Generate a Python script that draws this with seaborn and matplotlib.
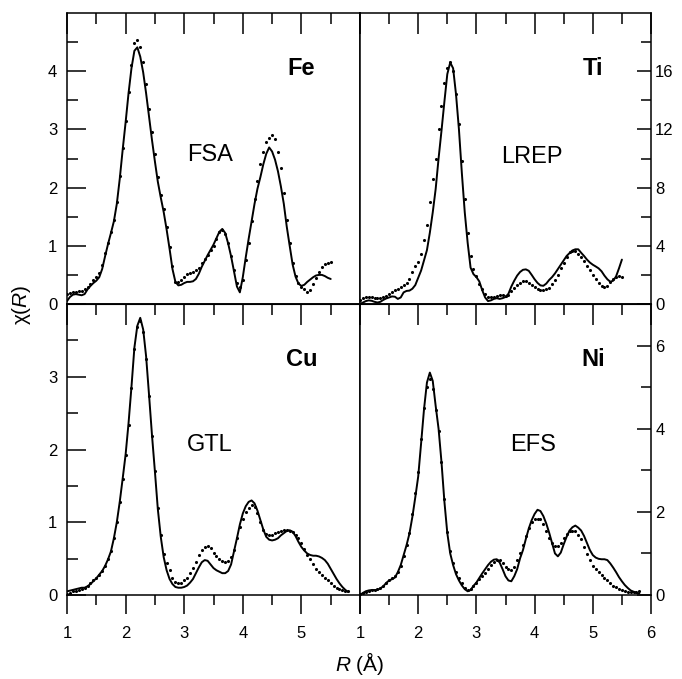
import numpy as np
import pandas as pd
import matplotlib
matplotlib.use("Agg")
import matplotlib.pyplot as plt
import seaborn as sns
from matplotlib.ticker import FixedLocator

sns.set_style("ticks")
plt.rcParams["font.family"] = ["Liberation Sans", "DejaVu Sans"]
plt.rcParams["mathtext.fontset"] = "custom"
plt.rcParams["mathtext.rm"] = "Liberation Sans"
plt.rcParams["mathtext.it"] = "Liberation Sans:italic"
for k in ["text.color", "axes.labelcolor", "xtick.color", "ytick.color", "axes.edgecolor"]:
    plt.rcParams[k] = "black"

# ---------------- data ----------------
R_fe = np.round(np.arange(1.0, 5.501, 0.05), 2)
fe_line = [0.05, 0.12, 0.16, 0.17, 0.16, 0.15, 0.17, 0.25, 0.31, 0.36,
           0.40, 0.46, 0.60, 0.82, 1.03, 1.22, 1.42, 1.72, 2.15, 2.65,
           3.12, 3.62, 4.05, 4.35, 4.41, 4.25, 3.98, 3.62, 3.22, 2.82,
           2.45, 2.10, 1.83, 1.58, 1.28, 0.95, 0.60, 0.38, 0.32, 0.33,
           0.36, 0.38, 0.38, 0.39, 0.43, 0.52, 0.64, 0.74, 0.84, 0.93,
           1.02, 1.13, 1.24, 1.29, 1.22, 1.04, 0.82, 0.56, 0.30, 0.20,
           0.46, 0.80, 1.12, 1.42, 1.72, 1.98, 2.18, 2.40, 2.58, 2.69,
           2.62, 2.48, 2.28, 2.02, 1.72, 1.33, 1.00, 0.68, 0.47, 0.35,
           0.31, 0.33, 0.38, 0.42, 0.46, 0.49, 0.50, 0.50, 0.48, 0.45,
           0.43]
fe_dots = [0.17, 0.19, 0.20, 0.21, 0.22, 0.23, 0.25, 0.29, 0.35, 0.41,
           0.46, 0.53, 0.67, 0.88, 1.05, 1.23, 1.44, 1.75, 2.20, 2.68,
           3.15, 3.65, 4.10, 4.48, 4.53, 4.42, 4.15, 3.78, 3.35, 2.95,
           2.58, 2.18, 1.88, 1.63, 1.32, 0.98, 0.65, 0.38, 0.38, 0.42,
           0.47, 0.52, 0.53, 0.55, 0.58, 0.62, 0.70, 0.77, 0.85, 0.92,
           1.00, 1.12, 1.23, 1.28, 1.20, 1.04, 0.82, 0.58, 0.36, 0.30,
           0.42, 0.75, 1.05, 1.42, 1.80, 2.12, 2.40, 2.62, 2.78, 2.86,
           2.91, 2.84, 2.62, 2.33, 1.90, 1.45, 1.05, 0.70, 0.48, 0.36,
           0.30, 0.25, 0.21, 0.24, 0.35, 0.44, 0.55, 0.64, 0.69, 0.71,
           0.72]

R_ti = np.round(np.arange(1.0, 5.501, 0.05), 2)
ti_line = [0.00, 0.10, 0.20, 0.25, 0.22, 0.15, 0.10, 0.15, 0.28, 0.38,
           0.45, 0.52, 0.50, 0.35, 0.45, 0.80, 0.90, 0.92, 1.05, 1.30,
           1.80, 2.30, 3.00, 3.70, 4.90, 6.30, 7.90, 10.0, 11.9, 13.9,
           15.8, 16.6, 16.2, 14.4, 12.0, 9.0, 6.3, 4.2, 2.5, 2.05,
           1.85, 1.55, 0.95, 0.45, 0.20, 0.25, 0.35, 0.40, 0.35, 0.40,
           0.48, 0.70, 1.20, 1.60, 1.95, 2.20, 2.35, 2.38, 2.28, 2.00,
           1.70, 1.45, 1.28, 1.25, 1.40, 1.65, 1.85, 2.10, 2.40, 2.70,
           3.00, 3.30, 3.50, 3.68, 3.76, 3.76, 3.52, 3.30, 3.05, 2.85,
           2.70, 2.58, 2.45, 2.25, 1.95, 1.70, 1.53, 1.60, 1.90, 2.45,
           3.05]
ti_dots = [0.25, 0.40, 0.48, 0.50, 0.48, 0.43, 0.40, 0.40, 0.48, 0.58,
           0.70, 0.82, 0.95, 1.05, 1.15, 1.30, 1.45, 1.75, 2.20, 2.60,
           2.90, 3.45, 4.40, 5.40, 7.00, 8.60, 10.0, 12.0, 13.6, 15.2,
           16.2, 16.6, 16.0, 14.4, 12.4, 9.8, 7.2, 4.9, 3.3, 2.4,
           1.95, 1.35, 1.00, 0.70, 0.50, 0.48, 0.50, 0.55, 0.62, 0.60,
           0.55, 0.65, 0.90, 1.10, 1.30, 1.45, 1.57, 1.55, 1.42, 1.32,
           1.20, 1.05, 0.98, 0.96, 1.00, 1.08, 1.35, 1.65, 2.00, 2.45,
           2.84, 3.25, 3.55, 3.65, 3.65, 3.45, 3.20, 2.95, 2.62, 2.35,
           2.00, 1.70, 1.42, 1.25, 1.15, 1.25, 1.50, 1.70, 1.88, 1.90,
           1.88]

R_cu = np.round(np.arange(1.0, 5.801, 0.05), 2)
cu_line = [0.05, 0.06, 0.07, 0.08, 0.09, 0.10, 0.10, 0.12, 0.15, 0.19,
           0.23, 0.28, 0.33, 0.40, 0.49, 0.60, 0.78, 1.00, 1.28, 1.60,
           1.93, 2.36, 2.86, 3.40, 3.70, 3.81, 3.65, 3.28, 2.75, 2.20,
           1.70, 1.18, 0.80, 0.52, 0.34, 0.22, 0.15, 0.11, 0.10, 0.10,
           0.11, 0.13, 0.17, 0.22, 0.30, 0.38, 0.45, 0.48, 0.47, 0.42,
           0.37, 0.34, 0.32, 0.30, 0.30, 0.33, 0.42, 0.60, 0.78, 0.97,
           1.12, 1.22, 1.28, 1.30, 1.26, 1.16, 1.03, 0.90, 0.80, 0.76,
           0.75, 0.76, 0.78, 0.82, 0.85, 0.88, 0.89, 0.87, 0.81, 0.73,
           0.66, 0.61, 0.57, 0.55, 0.54, 0.54, 0.53, 0.51, 0.48, 0.43,
           0.36, 0.29, 0.22, 0.16, 0.11, 0.07, 0.04]
cu_dots = [0.01, 0.03, 0.05, 0.06, 0.07, 0.08, 0.09, 0.12, 0.16, 0.20,
           0.24, 0.28, 0.33, 0.40, 0.49, 0.60, 0.78, 1.00, 1.28, 1.60,
           1.93, 2.33, 2.84, 3.38, 3.68, 3.76, 3.62, 3.25, 2.73, 2.18,
           1.70, 1.20, 0.82, 0.56, 0.44, 0.34, 0.24, 0.18, 0.16, 0.17,
           0.20, 0.24, 0.30, 0.37, 0.45, 0.55, 0.62, 0.66, 0.67, 0.64,
           0.58, 0.53, 0.49, 0.47, 0.46, 0.47, 0.52, 0.62, 0.78, 0.93,
           1.05, 1.14, 1.20, 1.24, 1.21, 1.13, 1.01, 0.90, 0.84, 0.83,
           0.83, 0.85, 0.87, 0.88, 0.90, 0.90, 0.88, 0.86, 0.83, 0.78,
           0.72, 0.63, 0.55, 0.49, 0.42, 0.36, 0.32, 0.27, 0.23, 0.20,
           0.16, 0.12, 0.10, 0.08, 0.07, 0.06, 0.05]

R_ni = np.round(np.arange(1.0, 5.801, 0.05), 2)
ni_line = [0.00, 0.05, 0.09, 0.11, 0.12, 0.12, 0.12, 0.16, 0.21, 0.29,
           0.35, 0.38, 0.42, 0.55, 0.72, 0.96, 1.20, 1.48, 1.88, 2.35,
           2.85, 3.65, 4.47, 5.11, 5.35, 5.15, 4.55, 4.00, 3.20, 2.25,
           1.49, 1.00, 0.72, 0.50, 0.35, 0.23, 0.14, 0.09, 0.12, 0.22,
           0.30, 0.41, 0.52, 0.62, 0.72, 0.80, 0.85, 0.86, 0.78, 0.62,
           0.45, 0.35, 0.33, 0.45, 0.62, 0.88, 1.08, 1.35, 1.60, 1.80,
           1.95, 2.05, 2.02, 1.90, 1.72, 1.50, 1.25, 1.00, 0.93, 1.02,
           1.22, 1.40, 1.55, 1.63, 1.67, 1.62, 1.55, 1.42, 1.25, 1.08,
           0.96, 0.90, 0.87, 0.86, 0.86, 0.84, 0.76, 0.66, 0.55, 0.43,
           0.33, 0.24, 0.17, 0.11, 0.08, 0.05, 0.04]
ni_dots = [0.02, 0.05, 0.08, 0.10, 0.12, 0.13, 0.14, 0.17, 0.22, 0.29,
           0.36, 0.40, 0.45, 0.55, 0.70, 0.95, 1.20, 1.50, 1.95, 2.45,
           2.95, 3.75, 4.50, 5.00, 5.20, 4.95, 4.45, 3.95, 3.20, 2.30,
           1.52, 1.05, 0.78, 0.55, 0.40, 0.28, 0.18, 0.12, 0.15, 0.22,
           0.29, 0.38, 0.45, 0.52, 0.62, 0.72, 0.80, 0.84, 0.84, 0.76,
           0.68, 0.62, 0.60, 0.68, 0.85, 1.00, 1.20, 1.42, 1.62, 1.75,
           1.82, 1.84, 1.82, 1.70, 1.55, 1.38, 1.26, 1.18, 1.18, 1.24,
           1.36, 1.46, 1.54, 1.55, 1.53, 1.45, 1.35, 1.15, 0.98, 0.84,
           0.70, 0.62, 0.55, 0.48, 0.42, 0.36, 0.28, 0.22, 0.19, 0.15,
           0.12, 0.10, 0.08, 0.08, 0.08, 0.08, 0.10]

# ---------------- layout ----------------
W, H = 682, 679
fig = plt.figure(figsize=(W / 100, H / 100), dpi=100)
xl, xm, xr = 67 / W, 360 / W, 651 / W
yt, ym, yb = 1 - 13 / H, 1 - 304 / H, 1 - 595 / H

ax_tl = fig.add_axes([xl, ym, xm - xl, yt - ym])
ax_tr = fig.add_axes([xm, ym, xr - xm, yt - ym])
ax_bl = fig.add_axes([xl, yb, xm - xl, ym - yb])
ax_br = fig.add_axes([xm, yb, xr - xm, ym - yb])

panels = [
    (ax_tl, R_fe, fe_line, fe_dots, 5, [0, 1, 2, 3, 4], np.arange(0.5, 5, 1.0), "left", False, "Fe", "FSA", (0.488, 0.512)),
    (ax_tr, R_ti, ti_line, ti_dots, 20, [0, 4, 8, 12, 16], [2, 6, 10, 14, 18], "right", False, "Ti", "LREP", (0.592, 0.505)),
    (ax_bl, R_cu, cu_line, cu_dots, 4, [0, 1, 2, 3], np.arange(0.5, 4, 1.0), "left", True, "Cu", "GTL", (0.488, 0.515)),
    (ax_br, R_ni, ni_line, ni_dots, 7, [0, 2, 4, 6], [1, 3, 5], "right", True, "Ni", "EFS", (0.596, 0.515)),
]

xmaj = [1, 2, 3, 4, 5, 6]
xmin = [1.5, 2.5, 3.5, 4.5, 5.5]
TS = 12

for ax, R, line, dots, ymax, ymaj, ymin, side, bottom, elem, samp, spos in panels:
    df = pd.DataFrame({"R": R, "line": line, "dots": dots})
    sns.lineplot(data=df, x="R", y="line", ax=ax, color="black", lw=1.4,
                 estimator=None, sort=False)
    sns.scatterplot(data=df, x="R", y="dots", ax=ax, color="black", s=5,
                    linewidth=0, zorder=3)
    ax.set_xlim(1, 6)
    ax.set_ylim(0, ymax)
    ax.set_xlabel("")
    ax.set_ylabel("")
    for sp in ax.spines.values():
        sp.set_visible(True)
        sp.set_linewidth(1.1)
        sp.set_color("black")

    # y ticks
    ax.yaxis.set_major_locator(FixedLocator(ymaj))
    ax.yaxis.set_minor_locator(FixedLocator(list(ymin)))
    if side == "left":
        ax.tick_params(axis="y", which="both", direction="in", left=True, right=False,
                       labelleft=True, labelright=False, width=1.1, labelsize=TS, pad=7)
        ax.tick_params(axis="y", which="major", length=14)
        ax.tick_params(axis="y", which="minor", length=8)
    else:
        ax.yaxis.tick_right()
        ax.tick_params(axis="y", which="both", direction="in", left=False, right=True,
                       labelleft=False, labelright=True, width=1.1, labelsize=TS, pad=3)
        ax.tick_params(axis="y", which="major", length=10)
        ax.tick_params(axis="y", which="minor", length=7)
    ax.set_yticklabels([str(v) for v in ymaj])

    # x ticks
    ax.xaxis.set_major_locator(FixedLocator(xmaj))
    ax.xaxis.set_minor_locator(FixedLocator(xmin))
    if bottom:
        ax.tick_params(axis="x", which="both", direction="out", bottom=True, top=False,
                       labelbottom=True, width=1.1, labelsize=TS, pad=8)
        ax.tick_params(axis="x", which="major", length=14)
        ax.tick_params(axis="x", which="minor", length=7)
        if side == "left":
            ax.set_xticklabels(["1", "2", "3", "4", "5", ""])
        else:
            ax.set_xticklabels(["1", "2", "3", "4", "5", "6"])
        sec = ax.secondary_xaxis("top")
        sec.xaxis.set_major_locator(FixedLocator(xmaj))
        sec.xaxis.set_minor_locator(FixedLocator(xmin))
        sec.tick_params(axis="x", which="both", direction="in", labeltop=False, width=1.1)
        sec.tick_params(axis="x", which="major", length=15)
        sec.tick_params(axis="x", which="minor", length=8)
    else:
        ax.tick_params(axis="x", which="both", direction="in", bottom=False, top=True,
                       labelbottom=False, labeltop=False, width=1.1)
        ax.tick_params(axis="x", which="major", length=15)
        ax.tick_params(axis="x", which="minor", length=8)

    ax.text(0.80, 0.81, elem, transform=ax.transAxes, fontsize=17, fontweight="bold",
            ha="center", va="center")
    ax.text(spos[0], spos[1], samp, transform=ax.transAxes, fontsize=17,
            ha="center", va="center")

fig.text(0.032, 0.551, "χ($\\mathit{R}$)", rotation=90, fontsize=15, ha="center", va="center")
fig.text(0.528, 0.023, "$\\mathit{R}$ (Å)", fontsize=15, ha="center", va="center")

fig.savefig("out.png", dpi=100)
